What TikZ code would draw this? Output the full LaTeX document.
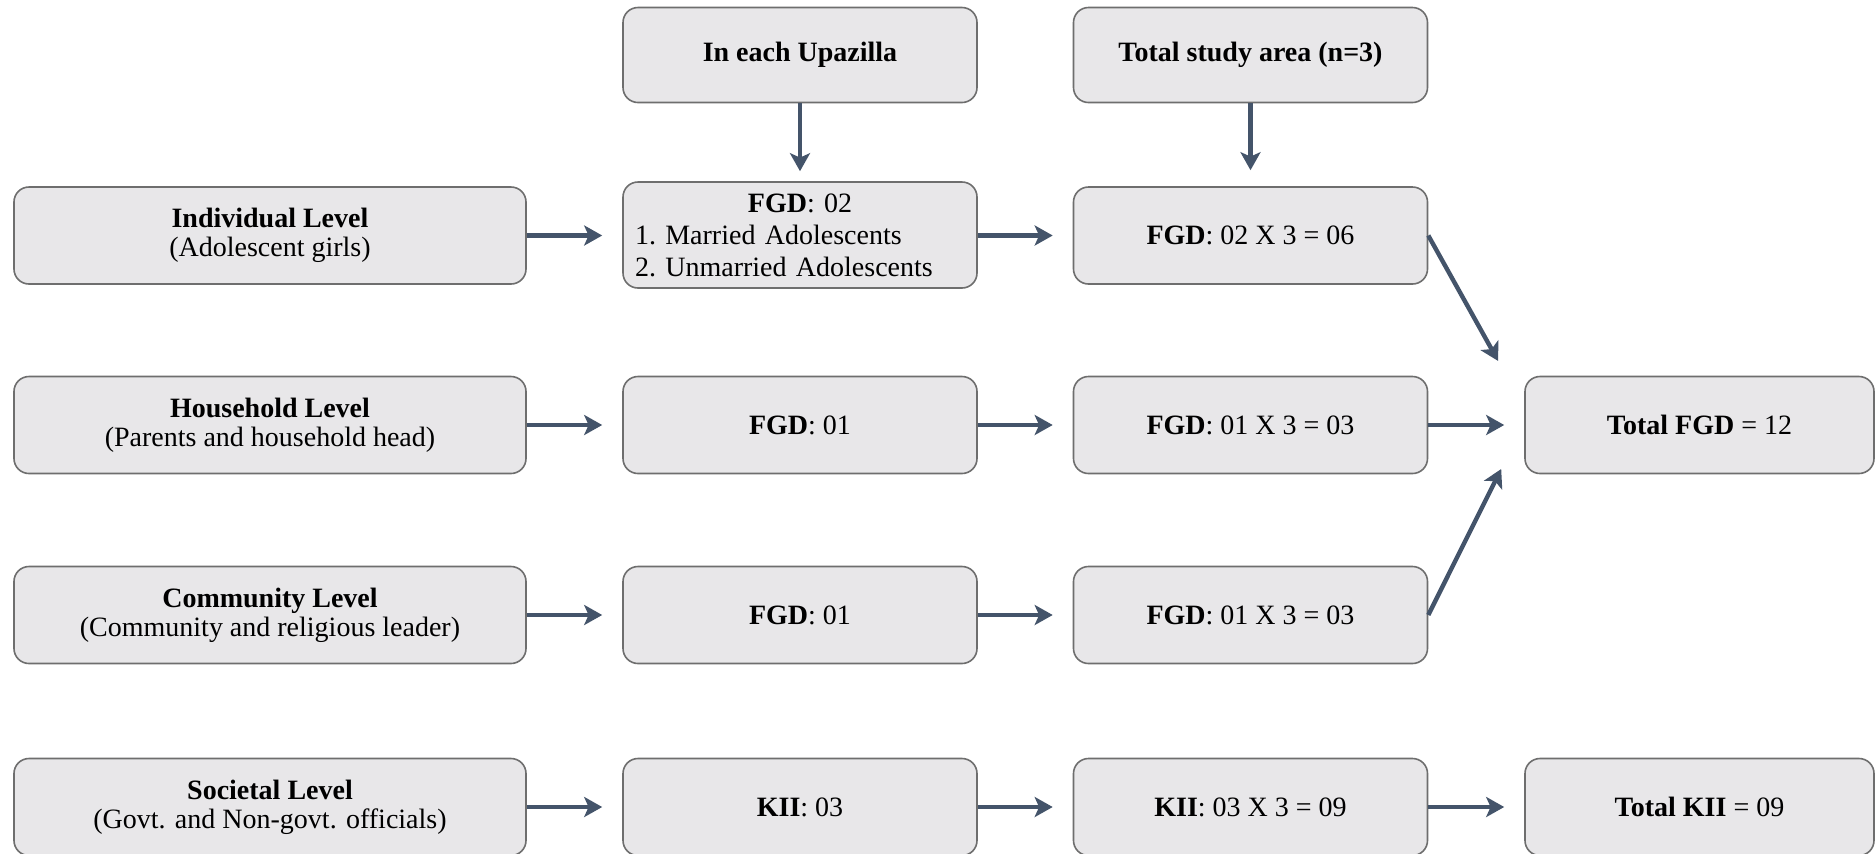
\documentclass[tikz,border=0pt]{standalone}
\usepackage{fontspec}
\setmainfont{Liberation Serif}
\usetikzlibrary{arrows.meta,calc}
\definecolor{boxfill}{HTML}{E8E7E9}
\definecolor{boxline}{HTML}{6E6E6E}
\definecolor{arrcol}{HTML}{44546A}
\tikzset{
  box/.style={draw=boxline, line width=0.8pt, fill=boxfill, rounded corners=7.5pt,
    align=center, inner sep=2pt,
    font=\fontsize{14pt}{14.5pt}\selectfont},
  c1box/.style={box, minimum width=256pt, minimum height=48.5pt},
  cbox/.style={box, minimum width=177pt, minimum height=48.5pt},
  arr/.style={draw=arrcol, line width=2.2pt, -{Stealth[length=9pt,width=10pt,inset=2.2pt]}},
}
\begin{document}
\begin{tikzpicture}[x=0.5pt,y=-0.5pt]
\clip (0,0) rectangle (1876,853);
\fill[white] (0,0) rectangle (1876,853);

% top headers
\node[cbox, minimum height=47.5pt] (t1) at (800,55) {\textbf{In each Upazilla}};
\node[cbox, minimum height=47.5pt] (t2) at (1250.5,55) {\textbf{Total study area (n=3)}};

% column 1
\node[c1box] (a1) at (270,235.5) {\textbf{Individual Level}\\(Adolescent girls)};
\node[c1box] (a2) at (270,425) {\textbf{Household Level}\\(Parents and household head)};
\node[c1box] (a3) at (270,615) {\textbf{Community Level}\\(Community and religious leader)};
\node[c1box] (a4) at (270,807) {\textbf{Societal Level}\\(Govt. and Non-govt. officials)};

% column 2
\node[cbox, minimum height=53pt, align=left, text width=165pt,
  font=\fontsize{14pt}{16pt}\selectfont] (b1) at (800,235)
  {\makebox[165pt][c]{\textbf{FGD}: 02}\\1.~Married Adolescents\\2.~Unmarried Adolescents};
\node[cbox] (b2) at (800,425) {\textbf{FGD}: 01};
\node[cbox] (b3) at (800,615) {\textbf{FGD}: 01};
\node[cbox] (b4) at (800,807) {\textbf{KII}: 03};

% column 3
\node[cbox] (c1) at (1250.5,235.5) {\textbf{FGD}: 02 X 3 = 06};
\node[cbox] (c2) at (1250.5,425) {\textbf{FGD}: 01 X 3 = 03};
\node[cbox] (c3) at (1250.5,615) {\textbf{FGD}: 01 X 3 = 03};
\node[cbox] (c4) at (1250.5,807) {\textbf{KII}: 03 X 3 = 09};

% column 4
\node[cbox, minimum width=174.5pt] (d2) at (1699.5,425) {\textbf{Total FGD} = 12};
\node[cbox, minimum width=174.5pt] (d4) at (1699.5,807) {\textbf{Total KII} = 09};

% vertical arrows
\draw[arr, shorten >=5pt] (t1.south) -- (b1.north);
\draw[arr, shorten >=8pt] (t2.south) -- (c1.north);

% horizontal arrows
\draw[arr, shorten >=10pt] (a1.east) -- (b1.west |- a1.east);
\draw[arr, shorten >=10pt] (a2.east) -- (b2.west);
\draw[arr, shorten >=10pt] (a3.east) -- (b3.west);
\draw[arr, shorten >=10pt] (a4.east) -- (b4.west);

\draw[arr, shorten >=10pt] (b1.east |- c1.east) -- (c1.west);
\draw[arr, shorten >=10pt] (b2.east) -- (c2.west);
\draw[arr, shorten >=10pt] (b3.east) -- (c3.west);
\draw[arr, shorten >=10pt] (b4.east) -- (c4.west);

\draw[arr, shorten >=10pt] (c2.east) -- (d2.west);
\draw[arr, shorten >=10pt] (c4.east) -- (d4.west);

% diagonal arrows
\coordinate (e1) at ($(d2.west)+(-26,-64)$);
\coordinate (e3) at ($(d2.west)+(-23,44)$);
\draw[arr] (c1.east) -- (e1);
\draw[arr] (c3.east) -- (e3);
\end{tikzpicture}
\end{document}
